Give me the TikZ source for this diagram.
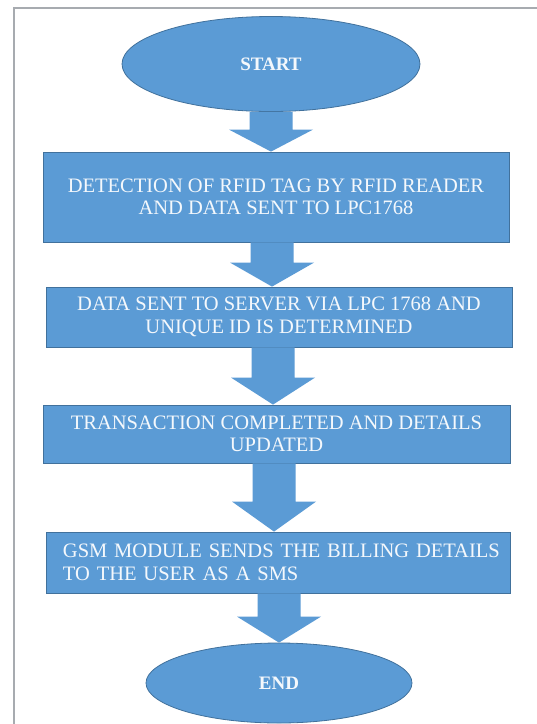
\documentclass[tikz,border=0pt]{standalone}
\usepackage{fontspec}
\setmainfont{Liberation Serif}
\usetikzlibrary{shapes.geometric,calc}

\definecolor{flowblue}{HTML}{5B9BD5}
\definecolor{flowedge}{HTML}{41719C}
\definecolor{flowtext}{HTML}{F4F8FC}
\definecolor{framegray}{HTML}{A7ABB0}

\tikzset{
  terminal/.style={ellipse, fill=flowblue, draw=flowedge, line width=0.8pt,
    text=flowtext, font=\fontsize{19}{21}\selectfont\bfseries, inner sep=0pt},
  stepbox/.style={rectangle, fill=flowblue, draw=flowedge, line width=0.8pt,
    text=flowtext, font=\fontsize{20.5}{22.5}\selectfont, inner sep=0pt,
    align=center},
  arrowfill/.style={fill=flowblue},
}

% block arrow from the bottom of #1 to the top of #2,
% centred at x = #3 (pt), with a head #4 pt long
\newcommand\blockarrow[4]{%
  \fill[arrowfill] let \p1=(#1.south), \p2=(#2.north) in
    (#3pt-21.5pt,\y1) -- (#3pt+21.5pt,\y1) -- (#3pt+21.5pt,\y2+#4pt)
    -- (#3pt+42pt,\y2+#4pt) -- (#3pt,\y2) -- (#3pt-42pt,\y2+#4pt)
    -- (#3pt-21.5pt,\y2+#4pt) -- cycle;}

\begin{document}
\begin{tikzpicture}[x=1pt,y=-1pt]
  \useasboundingbox[fill=white] (0,0) rectangle (537,724);

  % page frame
  \draw[framegray, line width=1.6pt] (14,724) -- (14,8) -- (537,8);

  % flow steps
  \node[terminal, minimum width=298pt, minimum height=95pt] (start) at (271,64) {START};
  \node[stepbox, minimum width=466pt, minimum height=90pt] (detect) at (276,197)
    {DETECTION OF RFID TAG BY RFID READER\\AND DATA SENT TO LPC1768};
  \node[stepbox, minimum width=466pt, minimum height=60pt] (server) at (279,317)
    {DATA SENT TO SERVER VIA LPC 1768 AND\\UNIQUE ID IS DETERMINED};
  \node[stepbox, minimum width=467pt, minimum height=58pt] (trans) at (276.5,434)
    {TRANSACTION COMPLETED AND DETAILS\\UPDATED};
  \node[stepbox, minimum width=464pt, minimum height=61pt, align=left,
    text width=430pt] (gsm) at (278,562.5)
    {\mbox{GSM MODULE SENDS THE BILLING DETAILS}\\\mbox{TO THE USER AS A SMS}};
  \node[terminal, minimum width=266pt, minimum height=80pt] (end) at (279,683) {END};

  % connectors
  \blockarrow{start}{detect}{271}{22}
  \blockarrow{detect}{server}{272}{24}
  \blockarrow{server}{trans}{273}{27}
  \blockarrow{trans}{gsm}{274}{30}
  \blockarrow{gsm}{end}{279}{26}
\end{tikzpicture}
\end{document}
